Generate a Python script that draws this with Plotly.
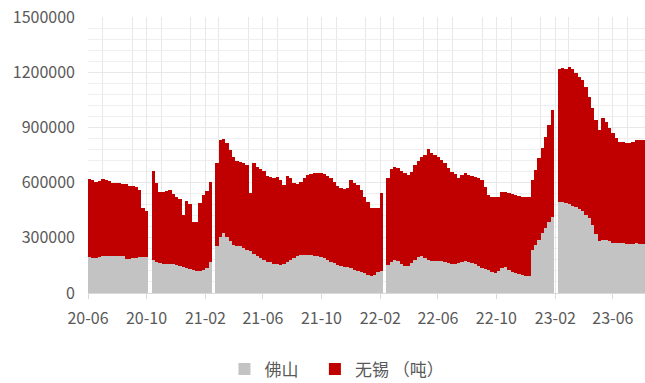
import pandas as pd
import plotly.graph_objects as go

# Weekly inventory, tonnes. None marks holiday weeks with no report.
foshan = [
    195000, 188000, 190000, 196000, 199000, 201000, 202000, 202000, 202000,
    201000, 199000, 185000, 186000, 190000, 192000, 194000, 197000, 198000,
    None,
    177000, 168000, 163000, 160000, 159000, 158000, 155000, 152000, 148000,
    143000, 138000, 132000, 125000, 121000, 120000, 124000, 138000, 168000,
    None,
    253000, 307000, 325000, 304000, 280000, 262000, 253000, 253000, 244000, 235000,
    226000, 213000, 202000, 190000, 181000, 171000, 166000, 159000, 155000, 153000,
    159000, 166000, 177000, 188000, 199000, 206000, 208000, 208000, 206000, 202000,
    199000, 195000, 188000, 181000, 171000, 163000, 153000, 148000, 144000, 140000,
    135000, 126000, 117000, 112000, 108000, 99000, 94000, 99000, 112000, 122000,
    None,
    150000, 170000, 180000, 172000, 155000, 148000, 148000, 163000, 181000, 193000,
    200000, 190000, 180000, 176000, 175000, 176000, 172000, 166000, 163000, 160000,
    159000, 163000, 170000, 172000, 170000, 163000, 155000, 148000, 136000, 130000,
    124000, 114000, 110000, 120000, 135000, 140000, 127000, 116000, 108000, 103000,
    99000, 95000, 94000, 235000, 262000, 289000, 325000, 352000, 388000, 415000,
    None,
    497000, 492000, 488000, 482000, 475000, 465000, 455000, 443000, 425000, 410000,
    370000, 320000, 285000, 290000, 289000, 280000, 272000, 270000, 272000, 270000,
    268000, 265000, 268000, 270000, 268000, 268000,
]

wuxi = [
    425000, 426000, 415000, 413000, 419000, 413000, 407000, 398000, 395000,
    396000, 396000, 408000, 396000, 392000, 386000, 366000, 265000, 247000,
    None,
    486000, 432000, 385000, 391000, 398000, 402000, 385000, 370000, 364000,
    279000, 360000, 350000, 263000, 265000, 368000, 409000, 417000, 434000,
    None,
    452000, 524000, 510000, 509000, 497000, 476000, 466000, 461000, 464000, 461000,
    316000, 492000, 485000, 482000, 484000, 465000, 463000, 465000, 477000, 461000,
    428000, 470000, 447000, 409000, 395000, 399000, 416000, 434000, 441000, 449000,
    452000, 459000, 459000, 455000, 453000, 442000, 429000, 421000, 420000, 429000,
    479000, 474000, 470000, 448000, 413000, 398000, 367000, 362000, 352000, 420000,
    None,
    473000, 502000, 507000, 506000, 510000, 503000, 494000, 497000, 515000, 526000,
    541000, 560000, 601000, 587000, 575000, 565000, 551000, 539000, 515000, 495000,
    488000, 460000, 472000, 479000, 472000, 473000, 474000, 475000, 478000, 448000,
    409000, 410000, 411000, 404000, 416000, 411000, 415000, 423000, 425000, 424000,
    425000, 426000, 430000, 379000, 407000, 443000, 461000, 497000, 525000, 579000,
    None,
    723000, 730000, 732000, 748000, 743000, 730000, 720000, 714000, 695000, 656000,
    633000, 620000, 601000, 659000, 642000, 615000, 596000, 571000, 550000, 552000,
    545000, 548000, 554000, 561000, 563000, 563000,
]

weeks = pd.date_range("2020-06-04", periods=len(foshan), freq="7D")
week_ms = 7 * 24 * 3600 * 1000

# trailing no-break spaces widen the first legend entry
series_names = ["佛山\u00a0\u00a0\u00a0", "无锡 （吨）"]
series_colors = ["#c3c3c3", "#c00000"]

fig = go.Figure()
for name, values, color in zip(series_names, [foshan, wuxi], series_colors):
    fig.add_trace(go.Bar(
        x=weeks, y=values, name=name, width=week_ms,
        marker=dict(color=color, line=dict(width=0)),
    ))

tick_font = dict(family="Noto Sans CJK SC", size=16, color="#595959")
grid = "#e8e8e8"

fig.update_layout(
    width=645, height=383,
    margin=dict(l=88, r=0, t=17, b=90, autoexpand=False),
    paper_bgcolor="white", plot_bgcolor="white",
    barmode="stack", bargap=0,
    showlegend=True,
    legend=dict(
        orientation="h", x=0.245, xanchor="left", y=-0.277, yanchor="middle",
        font=dict(family="Noto Sans CJK SC", size=17, color="#595959"),
        traceorder="normal",
    ),
    xaxis=dict(
        type="date", range=["2020-06-01", "2023-08-07"],
        tick0="2020-06-01", dtick="M4", tickformat="%y-%m",
        ticks="outside", ticklen=5, tickcolor="#d9d9d9",
        showline=True, linecolor="#d9d9d9", linewidth=1,
        showgrid=True, gridcolor=grid,
        minor=dict(dtick="M2", showgrid=True, gridcolor=grid),
        tickfont=tick_font, ticklabelstandoff=6,
    ),
    yaxis=dict(
        range=[0, 1500000], dtick=300000, tickformat="d",
        showgrid=True, gridcolor=grid, zeroline=False,
        minor=dict(dtick=60000, showgrid=True, gridcolor="#efefef"),
        tickfont=tick_font, ticklabelstandoff=12,
    ),
)

fig.write_html("out.html")
